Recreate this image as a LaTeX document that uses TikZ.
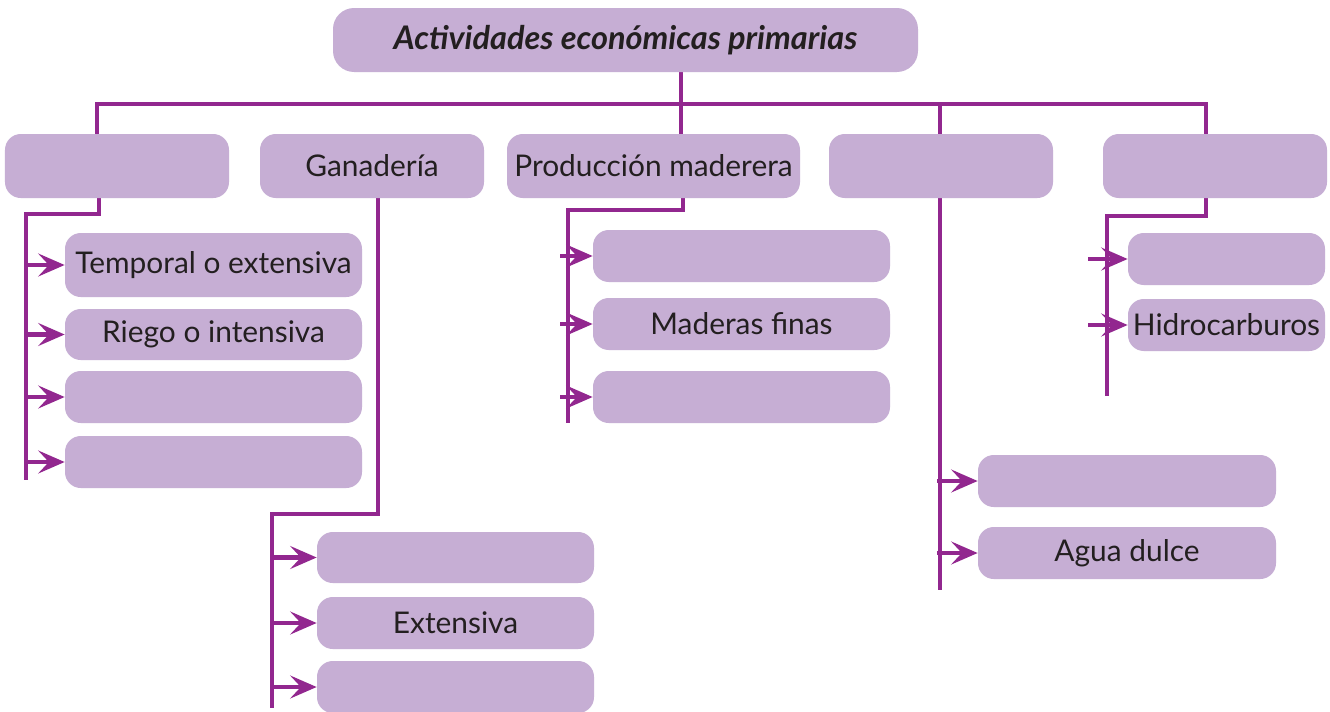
\documentclass[tikz,border=0pt]{standalone}
\usepackage{fontspec}
\setmainfont{Lato}
\usepackage{xcolor}
\usetikzlibrary{arrows.meta, backgrounds}
\definecolor{cplum}{RGB}{146,39,143}
\definecolor{clav} {RGB}{198,174,212}
\definecolor{cink} {RGB}{35,31,32}
\tikzset{
  box/.style={rectangle, rounded corners=9pt, fill=clav, text=cink,
              font=\fontsize{17}{20}\selectfont, inner sep=0pt,
              minimum height=#1},
  box/.default=1.04cm,
  ln/.style={line width=2.8pt, color=cplum},
  arr/.style={-{Stealth[length=15pt,width=13pt,inset=6pt]}, line width=2.8pt, color=cplum},
}

\begin{document}
\begin{tikzpicture}
  \useasboundingbox (0,0) rectangle (26.6,-14.22);

  % ── Nodes ──────────────────────────────────────────────────────────────────
  \node[box=1.28cm, minimum width=11.70cm, rounded corners=12pt,
        font=\fontsize{18.5}{22}\selectfont\bfseries\itshape] at (12.51,-0.80) (top) {Actividades económicas primarias};

  \node[box=1.28cm, minimum width=4.48cm] at (2.34,-3.32)  (agri) {};
  \node[box=1.28cm, minimum width=4.48cm] at (7.44,-3.32)  (gana) {Ganadería};
  \node[box=1.28cm, minimum width=5.86cm] at (13.07,-3.32) (made) {Producción maderera};
  \node[box=1.28cm, minimum width=4.48cm] at (18.82,-3.32) (pesc) {};
  \node[box=1.28cm, minimum width=4.48cm] at (24.30,-3.32) (mine) {};

  \node[box=1.28cm, minimum width=5.94cm] at (4.27,-5.30) (a1) {Temporal o extensiva};
  \node[box=1.02cm, minimum width=5.94cm] at (4.27,-6.69) (a2) {Riego o intensiva};
  \node[box,        minimum width=5.94cm] at (4.27,-7.94) (a3) {};
  \node[box,        minimum width=5.94cm] at (4.27,-9.24) (a4) {};

  \node[box=1.02cm, minimum width=5.54cm] at (9.11,-11.15) (g1) {};
  \node[box,        minimum width=5.54cm] at (9.11,-12.46) (g2) {Extensiva};
  \node[box,        minimum width=5.54cm] at (9.11,-13.74) (g3) {};

  \node[box, minimum width=5.94cm] at (14.83,-5.12) (m1) {};
  \node[box, minimum width=5.94cm] at (14.83,-6.48) (m2) {Maderas finas};
  \node[box, minimum width=5.94cm] at (14.83,-7.94) (m3) {};

  \node[box, minimum width=5.96cm] at (22.54,-9.62)  (p1) {};
  \node[box, minimum width=5.96cm] at (22.54,-11.06) (p2) {Agua dulce};

  \node[box, minimum width=3.94cm] at (24.53,-5.18) (n1) {};
  \node[box, minimum width=3.94cm] at (24.53,-6.50) (n2) {Hidrocarburos};

  % ── Bends and ends of the lines ────────────────────────────────────────────
  \coordinate (busL) at (1.94,-2.08);
  \coordinate (hub)  at (13.62,-2.08);
  \coordinate (busR) at (24.12,-2.08);
  \coordinate (ka) at (1.98,-4.28);   \coordinate (ea) at (0.52,-9.60);
  \coordinate (kg) at (7.56,-10.28);  \coordinate (eg) at (5.44,-14.16);
  \coordinate (km) at (13.66,-4.20);  \coordinate (em) at (11.36,-8.46);
  \coordinate (ep) at (18.80,-11.80);
  \coordinate (kn) at (24.12,-4.32);  \coordinate (en) at (22.14,-7.92);
  % arrow starts
  \coordinate (sm) at (11.20,0);
  \coordinate (sp) at (18.74,0);
  \coordinate (sn) at (21.76,0);

  % ── Arrows ─────────────────────────────────────────────────────────────────
  \foreach \n in {a1,a2,a3,a4} \draw[arr] (ea |- \n.west) -- (\n.west);
  \foreach \n in {g1,g2,g3}    \draw[arr] (eg |- \n.west) -- (\n.west);
  \foreach \n in {m1,m2,m3}    \draw[arr] (sm |- \n.west) -- (\n.west);
  \foreach \n in {p1,p2}       \draw[arr] (sp |- \n.west) -- (\n.west);
  \foreach \n in {n1,n2}       \draw[arr] (sn |- \n.west) -- (\n.west);

  % ── Tree lines ─────────────────────────────────────────────────────────────
  \begin{scope}[on background layer]
    \fill[white] (0,0) rectangle (26.6,-14.22);
    \draw[ln] (busL |- agri.north) -- (busL) -- (busR) -- (busR |- mine.north);
    \draw[ln] (hub |- top.south) -- (hub |- made.north);
    \draw[ln] (ep |- busL) -- (ep);
    \draw[ln] (ka |- agri.south) -- (ka) -| (ea);
    \draw[ln] (kg |- gana.south) -- (kg) -| (eg);
    \draw[ln] (km |- made.south) -- (km) -| (em);
    \draw[ln] (kn |- mine.south) -- (kn) -| (en);
  \end{scope}
\end{tikzpicture}
\end{document}
